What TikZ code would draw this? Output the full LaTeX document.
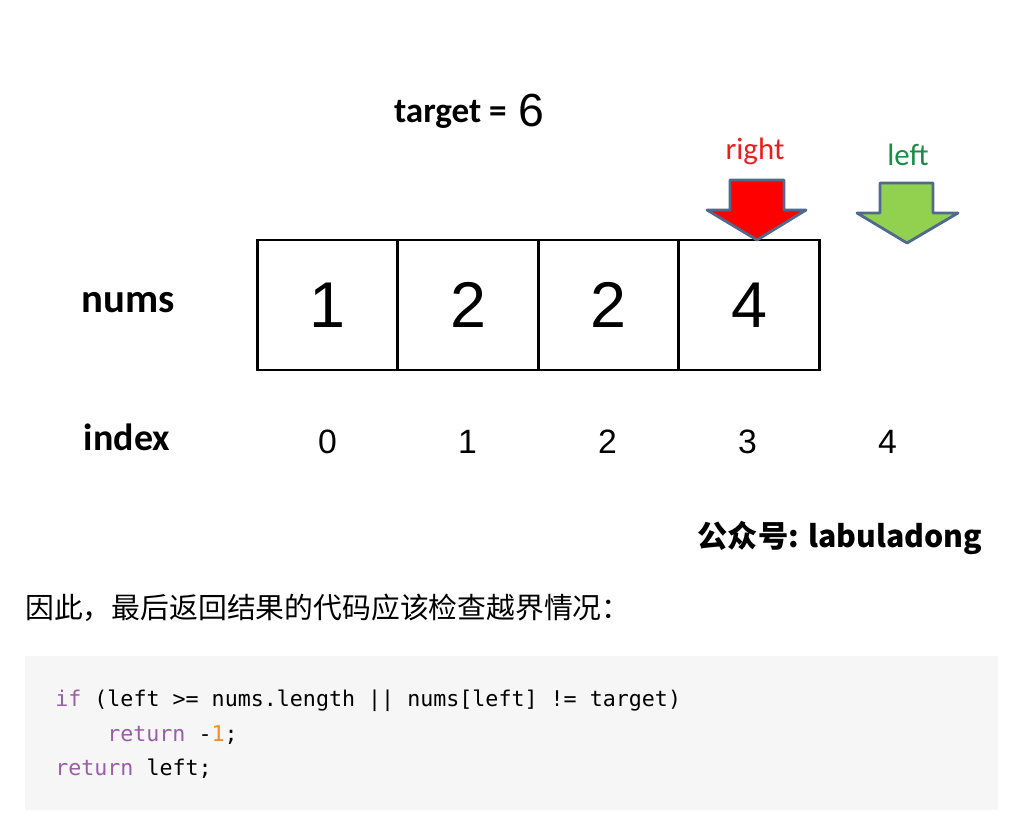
\documentclass[tikz,border=0pt]{standalone}
\usepackage{fontspec}
\setmainfont{Carlito}
\setmonofont{DejaVu Sans Mono}
\newfontfamily\cjkfont{Noto Sans CJK SC}
\newfontfamily\digitfont{Liberation Sans}
\usetikzlibrary{positioning}
\definecolor{ptrred}{HTML}{FF0000}
\definecolor{ptrgreen}{HTML}{92D050}
\definecolor{ptredge}{HTML}{4F6A8C}
\definecolor{rightlbl}{HTML}{E8201A}
\definecolor{leftlbl}{HTML}{1E8C46}
\definecolor{codebg}{HTML}{F6F6F6}
\definecolor{kwpurple}{HTML}{9A5EA8}
\definecolor{numorange}{HTML}{F28C28}

\tikzset{
  cell/.style={draw, line width=2pt, minimum width=3.5125cm, minimum height=3.25cm, inner sep=0pt,
    font=\digitfont\fontsize{46}{50}\selectfont},
  idx/.style={font=\digitfont\fontsize{24}{28}\selectfont},
  rowlabel/.style={font=\bfseries\fontsize{27}{32}\selectfont},
  ptr/.style={draw=ptredge, line width=2pt, line join=round},
  codeline/.style={anchor=base west, inner sep=0pt, font=\ttfamily\fontsize{15.4}{18}\selectfont}
}

\begin{document}
\begin{tikzpicture}[x=0.025cm, y=-0.025cm]
  \useasboundingbox (0,0) rectangle (1028,815);

  % title
  \node[anchor=base east, inner sep=0pt, font=\bfseries\fontsize{25}{30}\selectfont] (target) at (507,122) {target =};
  \node[anchor=base west, inner sep=0pt, font=\digitfont\fontsize{33}{38}\selectfont] (six) at (518,126) {6};

  % array cells
  \foreach \v [count=\i from 0] in {1,2,2,4}
    \node[cell] (c\i) at ({327.5+140.5*\i},305) {\v};

  \foreach \i in {0,...,4}
    \node[idx] (i\i) at ({327.5+140*\i},442) {\i};

  \node[rowlabel, font=\bfseries\fontsize{29}{34}\selectfont] (nums) at (128,303) {nums};
  \node[rowlabel] (index) at (127,437) {index};

  % pointers
  \filldraw[ptr, fill=ptrred] (730,180) -- (784,180) -- (784,210) -- (806,210) -- (757,240)
    -- (707,210) -- (730,210) -- cycle;
  \node[text=rightlbl, font=\fontsize{22}{26}\selectfont] (right) at (755,151) {right};
  \filldraw[ptr, fill=ptrgreen] (880,183) -- (933,183) -- (933,213) -- (958,213) -- (907,243)
    -- (857,213) -- (880,213) -- cycle;
  \node[text=leftlbl, font=\fontsize{22}{26}\selectfont] (left) at (908,155) {left};

  % watermark
  \node[font=\cjkfont\bfseries\fontsize{21.5}{25}\selectfont] (mark) at (840,538) {公众号: labuladong};

  % text below
  \node[anchor=west, inner sep=0pt, font=\cjkfont\fontsize{20.5}{24}\selectfont] (note) at (25,608)
    {因此，最后返回结果的代码应该检查越界情况：};

  % code block
  \fill[codebg] (25,656) rectangle (998,810);
  \node[codeline] (l1) at (55,706) {\textcolor{kwpurple}{if} (left >= nums.length || nums[left] != target)};
  \node[codeline] (l2) at (107,741) {\textcolor{kwpurple}{return} -\textcolor{numorange}{1};};
  \node[codeline] (l3) at (55,775) {\textcolor{kwpurple}{return} left;};
\end{tikzpicture}
\end{document}
